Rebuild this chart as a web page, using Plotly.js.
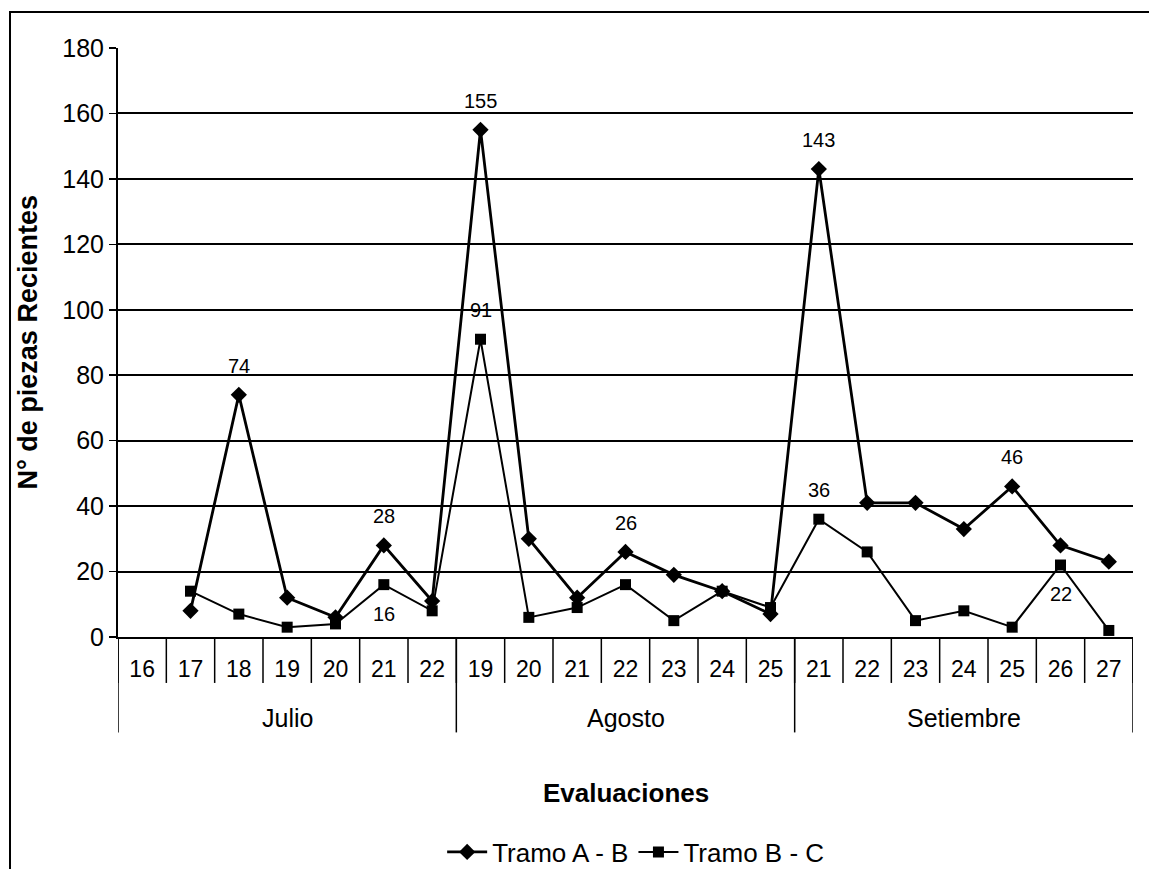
<!DOCTYPE html>
<html>
<head>
<meta charset="utf-8">
<script src="https://cdn.plot.ly/plotly-3.0.1.min.js"></script>
<style>html,body{margin:0;padding:0;background:#fff;overflow:hidden;}#chart{width:1149px;height:869px;}</style>
</head>
<body>
<div id="chart"></div>
<script>
const days = ['16','17','18','19','20','21','22','19','20','21','22','23','24','25','21','22','23','24','25','26','27'];
const months = ['Julio','Julio','Julio','Julio','Julio','Julio','Julio',
  'Agosto','Agosto','Agosto','Agosto','Agosto','Agosto','Agosto',
  'Setiembre','Setiembre','Setiembre','Setiembre','Setiembre','Setiembre','Setiembre'];
const tramoAB = [null,8,74,12,6,28,11,155,30,12,26,19,14,7,143,41,41,33,46,28,23];
const tramoBC = [null,14,7,3,4,16,8,91,6,9,16,5,14,9,36,26,5,8,3,22,2];
const labelsAboveAB = [2,5,7,10,14,18];
const labelsAboveBC = [7,14];
const labelsBelowBC = [5,19];
const yTicks = [0,20,40,60,80,100,120,140,160,180];

const FONT = 'Liberation Sans, Arial, sans-serif';
const xIdx = days.map((_, i) => i);

const traces = [
  {x: xIdx, y: tramoAB, name: 'Tramo A - B', mode: 'lines+markers',
   line: {color: '#000', width: 2.8}, marker: {symbol: 'diamond', size: 12.5, color: '#000'}},
  {x: xIdx, y: tramoBC, name: 'Tramo B - C', mode: 'lines+markers',
   line: {color: '#000', width: 2}, marker: {symbol: 'square', size: 11, color: '#000'}}
];

const annotations = [];
const lab = (series, idx, shift) => idx.forEach(i => annotations.push({
  x: i, y: series[i], xref: 'x', yref: 'y', text: String(series[i]), showarrow: false,
  yshift: shift, font: {family: FONT, size: 20, color: '#000'}
}));
lab(tramoAB, labelsAboveAB, 29);
lab(tramoBC, labelsAboveBC, 29);
lab(tramoBC, labelsBelowBC, -29);

// month groups
const groups = [];
months.forEach((m, i) => {
  if (!groups.length || groups[groups.length - 1].name !== m) groups.push({name: m, start: i, end: i});
  else groups[groups.length - 1].end = i;
});

const shapes = [];
const line = {color: '#000', width: 1.5};
for (let i = 0; i <= days.length; i++) {
  shapes.push({type: 'line', xref: 'x', yref: 'paper', x0: i - 0.5, x1: i - 0.5, y0: 0, y1: -0.078, line});
}
groups.forEach(g => {
  shapes.push({type: 'line', xref: 'x', yref: 'paper', x0: g.start - 0.5, x1: g.start - 0.5, y0: 0, y1: -0.162, line});
  annotations.push({x: (g.start + g.end) / 2, y: -0.137, xref: 'x', yref: 'paper', text: g.name,
    showarrow: false, yanchor: 'middle', font: {family: FONT, size: 25, color: '#000'}});
});
shapes.push({type: 'line', xref: 'x', yref: 'paper', x0: days.length - 0.5, x1: days.length - 0.5, y0: 0, y1: -0.162, line});
// outer frame
shapes.push({type: 'rect', xref: 'paper', yref: 'paper', x0: -0.1064, x1: 1.03, y0: -0.45, y1: 1.061,
  line: {color: '#000', width: 2}, layer: 'below'});

annotations.push({x: 0.5, y: -0.265, xref: 'paper', yref: 'paper', text: '<b>Evaluaciones</b>', showarrow: false,
  yanchor: 'middle', font: {family: FONT, size: 26, color: '#000'}});
annotations.push({x: -0.0887, y: 0.5, xref: 'paper', yref: 'paper', text: '<b>N° de piezas Recientes</b>', showarrow: false,
  textangle: -90, xanchor: 'center', yanchor: 'middle', font: {family: FONT, size: 27, color: '#000'}});

const layout = {
  width: 1149, height: 869,
  margin: {l: 118, r: 16, t: 48, b: 232, autoexpand: false},
  paper_bgcolor: '#fff', plot_bgcolor: '#fff',
  showlegend: true,
  legend: {orientation: 'h', x: 0.51, xanchor: 'center', y: -0.365, yanchor: 'middle',
    font: {family: FONT, size: 26, color: '#000'}, itemwidth: 40, tracegroupgap: 0},
  xaxis: {range: [-0.5, days.length - 0.5], tickmode: 'array', tickvals: xIdx, ticktext: days,
    ticks: '', showgrid: false, zeroline: false, showline: true, linecolor: '#000', linewidth: 2,
    tickfont: {family: FONT, size: 23, color: '#000'}, ticklabelstandoff: 10, automargin: false, fixedrange: true},
  yaxis: {range: [0, 180], tickmode: 'array', tickvals: yTicks, ticks: 'outside', ticklen: 7,
    tickcolor: '#000', tickwidth: 1.5, showgrid: true, gridcolor: '#000', gridwidth: 2,
    zeroline: false, showline: true, linecolor: '#000', linewidth: 2, automargin: false,
    tickfont: {family: FONT, size: 25, color: '#000'}},
  shapes, annotations
};

Plotly.newPlot('chart', traces, layout, {displayModeBar: false, staticPlot: true});
</script>
</body>
</html>
